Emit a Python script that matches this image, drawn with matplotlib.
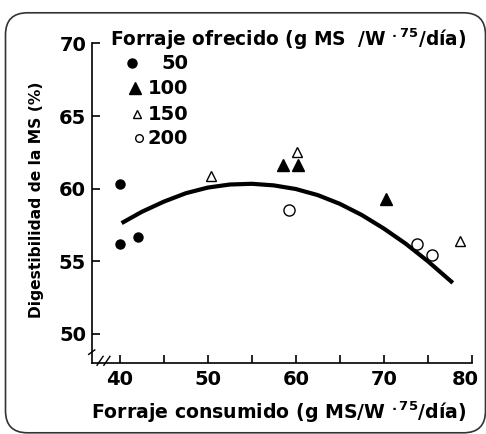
import matplotlib
matplotlib.use("Agg")
import matplotlib.pyplot as plt
from matplotlib.patches import FancyBboxPatch
from matplotlib.transforms import ScaledTranslation

plt.rcParams["font.family"] = ["DejaVu Sans"]
plt.rcParams["font.weight"] = "bold"
plt.rcParams["mathtext.fontset"] = "custom"
plt.rcParams["mathtext.rm"] = "DejaVu Sans:bold"
plt.rcParams["mathtext.it"] = "DejaVu Sans:bold"
plt.rcParams["mathtext.bf"] = "DejaVu Sans:bold"

# data
x_50 = [40.0, 40.0, 42.1]
y_50 = [60.35, 56.2, 56.65]
x_100 = [58.6, 60.3, 70.3]
y_100 = [61.65, 61.6, 59.3]
x_150 = [50.35, 60.1, 78.7]
y_150 = [60.9, 62.55, 56.4]
x_200 = [59.2, 73.75, 75.5]
y_200 = [58.55, 56.15, 55.45]

# fitted curve, read at several points
curve_x = [40.2, 42.5, 45, 47.5, 50, 52.5, 55, 57.5, 60, 62.5, 65, 67.5, 70, 72.5, 75, 77.85]
curve_y = [57.62, 58.40, 59.10, 59.68, 60.07, 60.28, 60.33, 60.22, 59.97, 59.55,
           58.95, 58.18, 57.25, 56.20, 55.0, 53.5]

legend_labels = ["50", "100", "150", "200"]
x_ticks = [40, 50, 60, 70, 80]
x_minor = [45, 55, 65, 75]
y_ticks = [50, 55, 60, 65, 70]

fig = plt.figure(figsize=(4.86, 4.34), dpi=100)
ax = fig.add_axes([0.1887, 0.1643, 0.7819, 0.7355])

ax.plot(curve_x, curve_y, color="black", linewidth=3.0, solid_capstyle="butt")
ax.plot(x_50, y_50, "o", color="black", markersize=6.5, linestyle="none")
ax.plot(x_100, y_100, "^", color="black", markersize=8, linestyle="none")
ax.plot(x_150, y_150, "^", markerfacecolor="white", markeredgecolor="black",
        markeredgewidth=1.0, markersize=7.5, linestyle="none")
ax.plot(x_200, y_200, "o", markerfacecolor="white", markeredgecolor="black",
        markeredgewidth=1.0, markersize=8, linestyle="none")

ax.set_xlim(36.8, 80)
ax.set_ylim(48.0, 70)
ax.set_xticks(x_ticks)
ax.set_xticks(x_minor, minor=True)
ax.set_yticks(y_ticks)
ax.tick_params(axis="both", which="both", direction="in", length=6, width=1.2,
               labelsize=14)
ax.tick_params(axis="x", pad=5)
ax.tick_params(axis="y", pad=4)
for lab in ax.get_xticklabels() + ax.get_yticklabels():
    lab.set_fontweight("bold")
# the last x label sits a little left of its tick in the original
last = ax.get_xticklabels()[-1]
last.set_transform(last.get_transform() + ScaledTranslation(-0.06, 0, fig.dpi_scale_trans))
ax.spines[["top", "right"]].set_visible(False)
ax.spines["left"].set_linewidth(1.2)
ax.spines["bottom"].set_linewidth(1.2)

# axis break marks
for xb in [0.022, 0.040]:
    ax.plot([xb - 0.008, xb + 0.008], [-0.008, 0.02], transform=ax.transAxes,
            color="black", linewidth=1.0, clip_on=False)
ax.plot([-0.008, 0.008], [0.026, 0.040], transform=ax.transAxes,
        color="black", linewidth=1.0, clip_on=False)

# manual legend
leg_marks = [
    dict(marker="o", mfc="black", mec="black", ms=6.5, pos=(0.105, 0.938)),
    dict(marker="^", mfc="black", mec="black", ms=8, pos=(0.114, 0.860)),
    dict(marker="^", mfc="white", mec="black", ms=5.5, pos=(0.118, 0.779)),
    dict(marker="o", mfc="white", mec="black", ms=5.5, pos=(0.125, 0.703)),
]
for m, lab in zip(leg_marks, legend_labels):
    px, py = m["pos"]
    ax.plot([px], [py], marker=m["marker"], markerfacecolor=m["mfc"],
            markeredgecolor=m["mec"], markersize=m["ms"], markeredgewidth=1.0,
            transform=ax.transAxes, clip_on=False, linestyle="none")
    ax.text(0.2534, py, lab, transform=ax.transAxes, ha="right", va="center",
            fontsize=14, fontweight="bold")

fig.text(0.226, 0.894, "Forraje ofrecido (g MS  /W $^{.75}$/día)",
         ha="left", va="baseline", fontsize=13.4, fontweight="bold")
fig.text(0.574, 0.035, "Forraje consumido (g MS/W $^{.75}$/día)",
         ha="center", va="baseline", fontsize=13.6, fontweight="bold")
fig.text(0.076, 0.539, "Digestibilidad de la MS (%)", rotation=90,
         ha="center", va="center", fontsize=11.2, fontweight="bold")

frame = FancyBboxPatch((0.055, 0.012), 4.80, 4.20,
                       boxstyle="round,pad=0,rounding_size=0.22",
                       transform=fig.dpi_scale_trans, facecolor="none",
                       edgecolor="#333333", linewidth=1.2)
fig.patches.append(frame)

fig.savefig("out.png", dpi=100)
